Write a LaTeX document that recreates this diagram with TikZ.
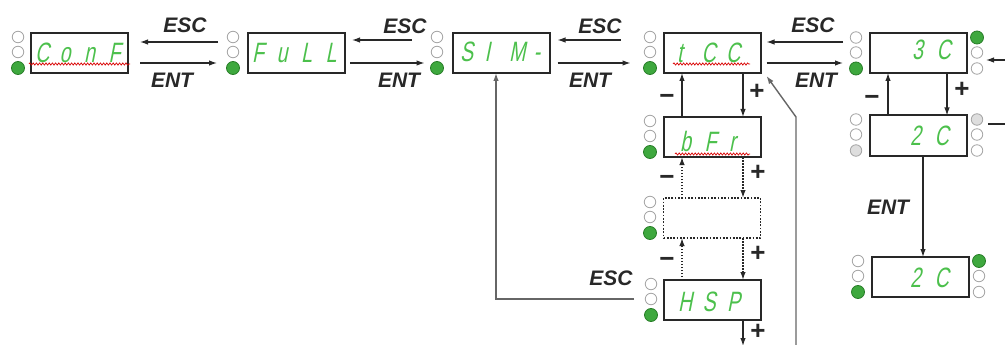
\documentclass[tikz,border=0pt]{standalone}
\usepackage{fontspec}
\setmainfont{Liberation Sans}
\newfontfamily\segfont{Liberation Sans}[FakeSlant=0.2,FakeStretch=0.7]
\usetikzlibrary{arrows.meta,decorations.pathmorphing,calc}
\definecolor{segg}{RGB}{76,192,76}
\definecolor{ledg}{RGB}{62,168,62}
\definecolor{ledgd}{RGB}{40,125,40}
\definecolor{ledo}{RGB}{165,165,165}
\definecolor{ink}{RGB}{40,40,40}
\newcommand\sg[1]{\makebox[24.5pt][l]{#1}}
\newcommand\ledcol[6]{%
  \node[#4] (#1a) at (#2,#3-16) {};
  \node[#5] (#1b) at (#2,#3-1) {};
  \node[#6] (#1c) at (#2,#3+15) {};}
\begin{document}
\begin{tikzpicture}[x=1pt,y=-1pt,
  disp/.style={draw=ink,line width=2pt,minimum width=97pt,minimum height=40pt,inner sep=0,outer sep=0},
  dotdisp/.style={draw=ink,line width=1.7pt,dash pattern=on 1.7pt off 1.6pt,minimum width=97pt,minimum height=40pt,inner sep=0,outer sep=0},
  seg/.style={font=\segfont\fontsize{28}{28}\selectfont,text=segg,inner sep=0,anchor=base west},
  led/.style={circle,minimum size=11.5pt,inner sep=0,draw=ledo,line width=0.8pt,fill=white},
  ledon/.style={led,minimum size=13pt,draw=ledgd,fill=ledg},
  ledgr/.style={led,fill=black!13},
  tip/.style={-{Latex[length=8pt,width=5.5pt]}},
  arr/.style={draw=ink,line width=1.2pt,tip},
  darr/.style={arr,dash pattern=on 1.5pt off 1.5pt,line width=1.5pt},
  key/.style={font=\bfseries\itshape\fontsize{21}{21}\selectfont,text=ink,inner sep=0},
  sign/.style={font=\bfseries\fontsize{26}{26}\selectfont,text=ink,inner sep=0},
  wavy/.style={draw=red!85!black,line width=0.7pt,decorate,decoration={snake,segment length=3.2pt,amplitude=1.1pt}},
  feed/.style={draw=black!60,line width=1.4pt,tip}]
\useasboundingbox (0,0) rectangle (1005,345);
\fill[white] (0,0) rectangle (1005,345);

% display boxes
\node[disp] (b1) at (79.5,53) {};
\node[disp] (b2) at (296.5,53) {};
\node[disp] (b3) at (501,53) {};
\node[disp] (b4) at (712,53) {};
\node[disp] (b5) at (712,137) {};
\node[dotdisp] (b6) at (712,218) {};
\node[disp] (b7) at (712,300) {};
\node[disp] (b8) at (918.5,53) {};
\node[disp] (b9) at (918.5,135.5) {};
\node[disp] (b10) at (920,277) {};

% LED columns
\ledcol{l1}{18}{53}{led}{led}{ledon}
\ledcol{l2}{233}{53}{led}{led}{ledon}
\ledcol{l3}{437}{53}{led}{led}{ledon}
\ledcol{l4}{650}{53}{led}{led}{ledon}
\ledcol{l5}{650}{137}{led}{led}{ledon}
\ledcol{l6}{650}{218}{led}{led}{ledon}
\ledcol{l7}{651}{300}{led}{led}{ledon}
\ledcol{l8}{856}{53.5}{led}{led}{ledon}
\ledcol{l8r}{977}{53.5}{ledon}{led}{led}
\ledcol{l9}{856}{135.5}{led}{led}{ledgr}
\ledcol{l9r}{977}{135.5}{ledgr}{led}{led}
\ledcol{l10}{858}{277}{led}{led}{ledon}
\ledcol{l10r}{979}{277}{ledon}{led}{led}

% display texts
\node[seg] (t1) at (35,63) {\sg{C}\sg{o}\sg{n}F};
\node[seg] (t2) at (252,63) {\sg{F}\sg{u}\sg{L}L};
\node[seg] (t3) at (460,62) {\sg{S}\sg{I}\sg{M}-};
\node[seg] (t4) at (677,63) {\sg{t}\sg{C}C};
\node[seg] (t5) at (680,151) {\sg{b}\sg{F}r};
\node[seg] (t7) at (678,311) {\sg{H}\sg{S}P};
\node[seg] (t8) at (912,60) {\sg{3}C};
\node[seg] (t9) at (910,145) {\sg{2}C};
\node[seg] (t10) at (910,287) {\sg{2}C};

% red wavy underlines
\draw[wavy] (29,64) -- (130,64);
\draw[wavy] (673,64) -- (750,64);
\draw[wavy] (675,154) -- (750,154);

% horizontal ESC / ENT arrows
\draw[arr] ([shift={(-30pt,11pt)}]b2.west) -- ([shift={(12pt,11pt)}]b1.east);
\draw[arr] ([shift={(12pt,-10pt)}]b1.east) -- ([shift={(-31pt,-10pt)}]b2.west);
\draw[arr] ([shift={(-41pt,13pt)}]b3.west) -- ([shift={(7pt,13pt)}]b2.east);
\draw[arr] ([shift={(5pt,-10pt)}]b2.east) -- ([shift={(-28pt,-10pt)}]b3.west);
\draw[arr] ([shift={(-43pt,13pt)}]b4.west) -- ([shift={(8pt,13pt)}]b3.east);
\draw[arr] ([shift={(8pt,-10pt)}]b3.east) -- ([shift={(-33pt,-10pt)}]b4.west);
\draw[arr] ([shift={(-27pt,11pt)}]b8.west) -- ([shift={(6pt,11pt)}]b4.east);
\draw[arr] ([shift={(6pt,-10pt)}]b4.east) -- ([shift={(-27pt,-10pt)}]b8.west);

\node[key] (esc1) at (185,25) {ESC};
\node[key] (ent1) at (172,80) {ENT};
\node[key] (esc2) at (405,26) {ESC};
\node[key] (ent2) at (399,80) {ENT};
\node[key] (esc3) at (600,26) {ESC};
\node[key] (ent3) at (590,80) {ENT};
\node[key] (esc4) at (813,25) {ESC};
\node[key] (ent4) at (816,80) {ENT};
\node[key] (esc5) at (611,278) {ESC};
\node[key] (ent5) at (888,207) {ENT};

% vertical scrolling arrows
\draw[arr] ([xshift=-30pt]b5.north) -- ([xshift=-30pt]b4.south);
\draw[arr] ([xshift=31pt]b4.south) -- ([xshift=31pt]b5.north);
\draw[darr] ([xshift=-30pt]b6.north) -- ([xshift=-30pt]b5.south);
\draw[darr] ([xshift=31pt]b5.south) -- ([xshift=31pt]b6.north);
\draw[darr] ([xshift=-30pt]b7.north) -- ([xshift=-30pt]b6.south);
\draw[darr] ([xshift=31pt]b6.south) -- ([xshift=31pt]b7.north);
\draw[arr] ([xshift=31pt]b7.south) -- ([xshift=31pt,yshift=-26pt]b7.south);
\draw[arr] ([xshift=-30.5pt]b9.north) -- ([xshift=-30.5pt]b8.south);
\draw[arr] ([xshift=28.5pt]b8.south) -- ([xshift=28.5pt]b9.north);
\draw[arr] ([xshift=4.5pt]b9.south) -- ([xshift=4.5pt]b9.south |- b10.north);

\node[sign] (m1) at (667,99) {−};
\node[sign] (p1) at (757,92) {+};
\node[sign] (m2) at (667,180) {−};
\node[sign] (p2) at (758,173) {+};
\node[sign] (m3) at (667,262) {−};
\node[sign] (p3) at (758,254) {+};
\node[sign] (p4) at (758,332) {+};
\node[sign] (m5) at (872,100) {−};
\node[sign] (p5) at (962,90) {+};

% feedback lines
\coordinate (f1) at (634,299);
\draw[feed] (f1) -| ([xshift=-5pt]b3.south);
\coordinate (f2) at (796,347);
\coordinate (f2b) at (796,117);
\draw[feed] (f2) -- (f2b) -- ([shift={(6pt,-3pt)}]b4.south east);
\coordinate (f3) at (1007,60);
\coordinate (f3e) at (986,60);
\draw[arr] (f3) -- (f3e);
\coordinate (f4) at (988,124);
\coordinate (f4e) at (1007,124);
\draw[draw=ink,line width=1.2pt] (f4) -- (f4e);
\end{tikzpicture}
\end{document}
